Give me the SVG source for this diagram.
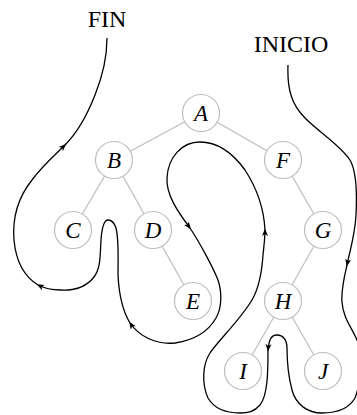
<svg xmlns="http://www.w3.org/2000/svg" width="357" height="415" viewBox="0 0 357 415">
<style>
.edge{stroke:#bdbdbd;stroke-width:1.2;fill:none}
.node circle{fill:#fff;stroke:#bdbdbd;stroke-width:1.2}
.node text{font-family:"Liberation Serif",serif;font-style:italic;font-size:23px;text-anchor:middle;fill:#000}
.lbl{font-family:"Liberation Serif",serif;font-size:24px;text-anchor:middle;fill:#000}
.tour{fill:none;stroke:#000;stroke-width:1.3}
.arr{marker-end:url(#ah)}
</style>
<defs>
<marker id="ah" viewBox="-8 -4 10 8" markerWidth="10" markerHeight="8" refX="0" refY="0" orient="auto" markerUnits="userSpaceOnUse">
<path d="M1.5,0 L-6,-3 L-4,0 L-6,3 z" fill="#000"/>
</marker>
</defs>
<g id="edges">
<line class="edge" x1="201" y1="113" x2="114" y2="160"/>
<line class="edge" x1="201" y1="113" x2="283" y2="160"/>
<line class="edge" x1="114" y1="160" x2="73" y2="230"/>
<line class="edge" x1="114" y1="160" x2="153" y2="230"/>
<line class="edge" x1="153" y1="230" x2="193" y2="301"/>
<line class="edge" x1="283" y1="160" x2="323" y2="230"/>
<line class="edge" x1="323" y1="230" x2="283" y2="301"/>
<line class="edge" x1="283" y1="301" x2="243" y2="371"/>
<line class="edge" x1="283" y1="301" x2="323" y2="371"/>
</g>
<g id="A" class="node"><circle cx="201" cy="113" r="18.5"/><text x="201" y="121">A</text></g>
<g id="B" class="node"><circle cx="114" cy="160" r="18.5"/><text x="114" y="168">B</text></g>
<g id="C" class="node"><circle cx="73" cy="230" r="18.5"/><text x="73" y="238">C</text></g>
<g id="D" class="node"><circle cx="153" cy="230" r="18.5"/><text x="153" y="238">D</text></g>
<g id="E" class="node"><circle cx="193" cy="301" r="18.5"/><text x="193" y="309">E</text></g>
<g id="F" class="node"><circle cx="283" cy="160" r="18.5"/><text x="283" y="168">F</text></g>
<g id="G" class="node"><circle cx="323" cy="230" r="18.5"/><text x="323" y="238">G</text></g>
<g id="H" class="node"><circle cx="283" cy="301" r="18.5"/><text x="283" y="309">H</text></g>
<g id="I" class="node"><circle cx="243" cy="371" r="18.5"/><text x="243" y="379">I</text></g>
<g id="J" class="node"><circle cx="323" cy="371" r="18.5"/><text x="323" y="379">J</text></g>
<g id="labels">
<text class="lbl" x="107" y="27">FIN</text>
<text class="lbl" x="291" y="52">INICIO</text>
</g>
<g id="connectors">
<path class="tour arr" d="M288,65 C287,90 292,105 305,118 C320,133 340,145 350,160 C357,172 357,195 356,215 C355,235 350,250 347,265"/>
<path class="tour arr" d="M347,265 C344,278 341,290 342,302 C343,318 352,328 357,340 C362,352 362,380 355,398 C348,410 335,413 322,413 C308,413 296,405 292,390 C288,375 287,360 287,348 C287,340 283,335 277,335 C271,335 269,340 268,350"/>
<path class="tour arr" d="M268,350 C268,370 268,395 260,405 C254,412 248,413 240,413 C228,413 215,410 208,398 C202,385 202,365 210,353 C218,341 240,320 252,300 C259,288 262,270 263,255 C264,245 265,238 265,230"/>
<path class="tour arr" d="M265,230 C264,210 258,190 245,170 C232,152 218,142 200,142 C182,142 168,157 167,178 C166,195 178,212 190,228"/>
<path class="tour arr" d="M190,228 C198,240 212,265 218,280 C222,292 222,308 216,318 C208,332 195,340 175,343 C155,345 138,335 130,323"/>
<path class="tour arr" d="M130,323 C122,310 119,295 118,275 C118,258 119,240 116,228 C114,222 111,220 108,220 C104,220 102,226 101,240 C100,255 101,268 94,277 C87,286 75,291 60,290 C52,290 44,288 38,285"/>
<path class="tour arr" d="M38,285 C25,277 16,262 14,240 C12,215 20,195 32,180 C42,166 55,155 65,145"/>
<path class="tour" d="M65,145 C75,135 86,118 95,95 C103,75 107,55 107,38"/>
</g>
</svg>
